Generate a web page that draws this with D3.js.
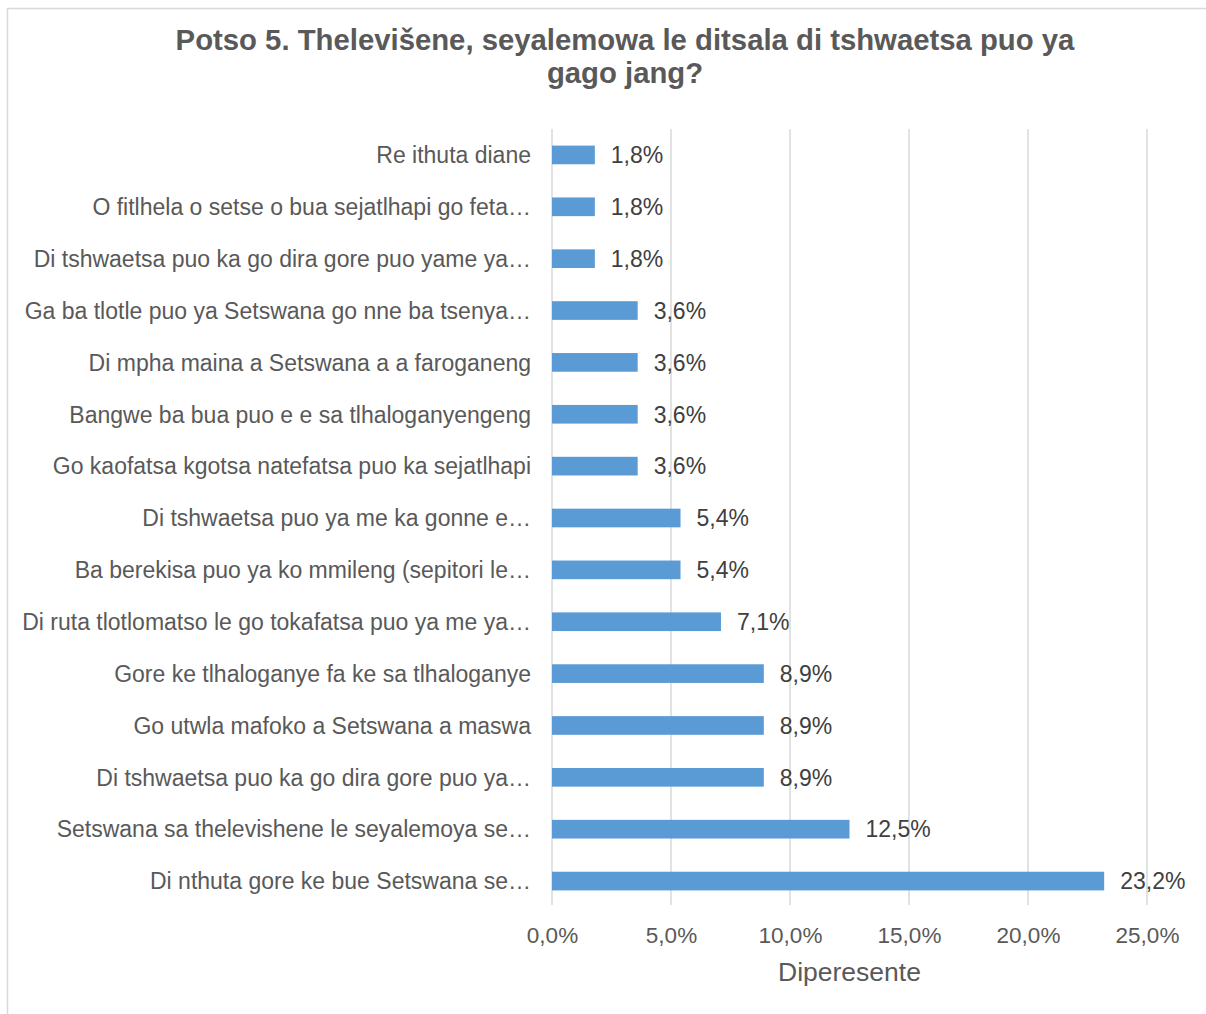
<!DOCTYPE html>
<html>
<head>
<meta charset="utf-8">
<script src="https://cdn.jsdelivr.net/npm/d3@7"></script>
<style>
  body { margin: 0; background: #fff; }
  svg { display: block; }
</style>
</head>
<body>
<div id="chart"></div>
<script>
// Chart data
const categories = [
    'Re ithuta diane',
    'O fitlhela o setse o bua sejatlhapi go feta…',
    'Di tshwaetsa puo ka go dira gore puo yame ya…',
    'Ga ba tlotle puo ya Setswana go nne ba tsenya…',
    'Di mpha maina a Setswana a a faroganeng',
    'Bangwe ba bua puo e e sa tlhaloganyengeng',
    'Go kaofatsa kgotsa natefatsa puo ka sejatlhapi',
    'Di tshwaetsa puo ya me ka gonne e…',
    'Ba berekisa puo ya ko mmileng (sepitori le…',
    'Di ruta tlotlomatso le go tokafatsa puo ya me ya…',
    'Gore ke tlhaloganye fa ke sa tlhaloganye',
    'Go utwla mafoko a Setswana a maswa',
    'Di tshwaetsa puo ka go dira gore puo ya…',
    'Setswana sa thelevishene le seyalemoya se…',
    'Di nthuta gore ke bue Setswana se…'
];
const values = [1.8, 1.8, 1.8, 3.6, 3.6, 3.6, 3.6, 5.4, 5.4, 7.1, 8.9, 8.9, 8.9, 12.5, 23.2];
const xTicks = [0, 5, 10, 15, 20, 25];
const titleLines = ['Potso 5. Thelevišene, seyalemowa le ditsala di tshwaetsa puo ya', 'gago jang?'];
const axisTitle = 'Diperesente';

const width = 1206, height = 1014;
const margin = { top: 129, right: 59, bottom: 107, left: 552 };
const font = 'Liberation Sans, Arial, sans-serif';

const svg = d3.select('#chart').append('svg')
    .attr('width', width)
    .attr('height', height);

// Outer frame
svg.append('rect')
    .attr('x', 7.5).attr('y', 8.5)
    .attr('width', width + 10).attr('height', height + 10)
    .attr('fill', 'none')
    .attr('stroke', '#d9d9d9')
    .attr('stroke-width', 1.5);

const fmt = v => v.toFixed(1).replace('.', ',') + '%';

const x = d3.scaleLinear()
    .domain([0, 25])
    .range([margin.left, width - margin.right]);

const y = d3.scaleBand()
    .domain(categories)
    .range([margin.top, height - margin.bottom])
    .paddingInner(0.64)
    .paddingOuter(0.32);

// Gridlines
svg.append('g')
    .selectAll('line')
    .data(xTicks)
    .join('line')
    .attr('x1', d => x(d)).attr('x2', d => x(d))
    .attr('y1', margin.top).attr('y2', height - margin.bottom - 2)
    .attr('stroke', '#d9d9d9')
    .attr('stroke-width', 1.5);

// Bars
svg.append('g')
    .selectAll('rect')
    .data(values)
    .join('rect')
    .attr('x', x(0))
    .attr('y', (d, i) => y(categories[i]))
    .attr('width', d => x(d) - x(0))
    .attr('height', y.bandwidth())
    .attr('fill', '#5b9bd5');

// Value labels
svg.append('g')
    .selectAll('text')
    .data(values)
    .join('text')
    .attr('x', d => x(d) + 16)
    .attr('y', (d, i) => y(categories[i]) + y.bandwidth() / 2)
    .attr('dy', '0.36em')
    .attr('font-family', font)
    .attr('font-size', 23)
    .attr('fill', '#404040')
    .text(d => fmt(d));

// Category labels
svg.append('g')
    .selectAll('text')
    .data(categories)
    .join('text')
    .attr('x', 531)
    .attr('y', d => y(d) + y.bandwidth() / 2)
    .attr('dy', '0.36em')
    .attr('text-anchor', 'end')
    .attr('font-family', font)
    .attr('font-size', 23)
    .attr('fill', '#595959')
    .text(d => d);

// X axis tick labels
const xAxis = d3.axisBottom(x)
    .tickValues(xTicks)
    .tickSize(0)
    .tickPadding(20)
    .tickFormat(d => fmt(d));

const gx = svg.append('g')
    .attr('transform', `translate(0,${height - margin.bottom})`)
    .call(xAxis);
gx.select('.domain').remove();
gx.selectAll('text')
    .attr('font-family', font)
    .attr('font-size', 22.5)
    .attr('fill', '#595959');

// Axis title
svg.append('text')
    .attr('x', (x(0) + x(25)) / 2)
    .attr('y', 981)
    .attr('text-anchor', 'middle')
    .attr('font-family', font)
    .attr('font-size', 26.5)
    .attr('fill', '#595959')
    .text(axisTitle);

// Chart title
svg.append('g')
    .selectAll('text')
    .data(titleLines)
    .join('text')
    .attr('x', 625)
    .attr('y', (d, i) => 50 + i * 33)
    .attr('text-anchor', 'middle')
    .attr('font-family', font)
    .attr('font-weight', 'bold')
    .attr('font-size', 29.3)
    .attr('fill', '#595959')
    .text(d => d);
</script>
</body>
</html>
